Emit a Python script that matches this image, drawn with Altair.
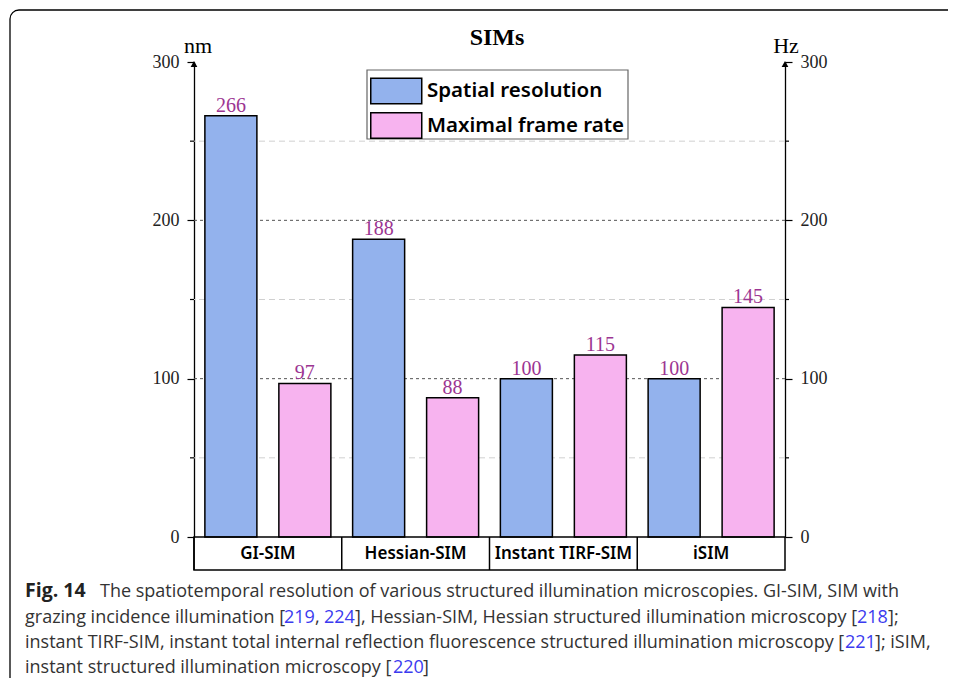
import altair as alt
import pandas as pd

# ---------------- data ----------------
categories = ["GI-SIM", "Hessian-SIM", "Instant TIRF-SIM", "iSIM"]
series = ["Spatial resolution", "Maximal frame rate"]
spatial_nm = [266, 188, 100, 100]
frame_rate_hz = [97, 88, 115, 145]
colors = ["#93b2ed", "#f7b3ef"]
y_ticks = [0, 100, 200, 300]
grid_major = [100, 200]
grid_minor = [50, 150, 250]

rows = []
for c, a, b in zip(categories, spatial_nm, frame_rate_hz):
    rows.append({"cat": c, "series": series[0], "value": a})
    rows.append({"cat": c, "series": series[1], "value": b})
df = pd.DataFrame(rows)

W, H = 591, 475
SERIF = "Liberation Serif"
SANS = "Noto Sans"
CAP = "Open Sans"
PURPLE = "#9c3592"
LINK = "#3b3bef"

yscale = alt.Scale(domain=[0, 300], nice=False, zero=True)
xscale = alt.Scale(domain=categories, paddingInner=0, paddingOuter=0)
xoff_scale = alt.Scale(domain=series, paddingInner=0.297, paddingOuter=0.147)


def yaxis(orient):
    return alt.Axis(orient=orient, values=y_ticks, title=None, grid=False,
                    domainColor="black", domainWidth=1.3, tickColor="black",
                    tickSize=7, tickWidth=1.2, labelFont=SERIF, labelFontSize=18,
                    labelColor="#222", labelPadding=8)


one = pd.DataFrame({"k": [0]})

legend_box = alt.Chart(one).mark_rect(fill="white", stroke="#666", strokeWidth=1.2).encode(
    x=alt.value(173), x2=alt.value(434), y=alt.value(8), y2=alt.value(77))

bars = alt.Chart(df).mark_bar(stroke="black", strokeWidth=1.5).encode(
    x=alt.X("cat:N", scale=xscale, sort=categories, axis=None),
    xOffset=alt.XOffset("series:N", scale=xoff_scale, sort=series),
    y=alt.Y("value:Q", scale=yscale, axis=yaxis("left")),
    fill=alt.Fill("series:N", sort=series,
                  scale=alt.Scale(domain=series, range=colors),
                  legend=alt.Legend(title=None, orient="none", legendX=171, legendY=10.5,
                                    symbolType="M-1,-1H3V1H-1Z", symbolSize=650,
                                    symbolStrokeColor="black", symbolStrokeWidth=1.5,
                                    symbolOpacity=1, labelFont=SANS, labelFontSize=20.5,
                                    labelFontWeight=600, labelColor="black", labelOffset=30,
                                    labelLimit=400, rowPadding=1.5, padding=5)),
)

value_labels = alt.Chart(df).mark_text(font=SERIF, fontSize=20, color=PURPLE,
                                       baseline="alphabetic", dy=-4).encode(
    x=alt.X("cat:N", scale=xscale, sort=categories, axis=None),
    xOffset=alt.XOffset("series:N", scale=xoff_scale, sort=series),
    y=alt.Y("value:Q", scale=yscale, axis=None),
    text="value:Q",
)

right_axis = alt.Chart(pd.DataFrame({"v": y_ticks})).mark_point(opacity=0).encode(
    y=alt.Y("v:Q", scale=yscale, axis=yaxis("right")),
)

gmaj = alt.Chart(pd.DataFrame({"v": grid_major})).mark_rule(
    color="#555", strokeDash=[3, 3], strokeWidth=1).encode(
    y=alt.Y("v:Q", scale=yscale, axis=None))
gmin = alt.Chart(pd.DataFrame({"v": grid_minor})).mark_rule(
    color="#d0d0d0", strokeDash=[6, 4], strokeWidth=1).encode(
    y=alt.Y("v:Q", scale=yscale, axis=None))
minor_l = alt.Chart(pd.DataFrame({"v": grid_minor})).mark_rule(
    color="black", strokeWidth=1.2).encode(
    y=alt.Y("v:Q", scale=yscale, axis=None), x=alt.value(-4), x2=alt.value(0))
minor_r = alt.Chart(pd.DataFrame({"v": grid_minor})).mark_rule(
    color="black", strokeWidth=1.2).encode(
    y=alt.Y("v:Q", scale=yscale, axis=None), x=alt.value(W), x2=alt.value(W + 4))

arrow_l = alt.Chart(pd.DataFrame({"v": [300]})).mark_point(
    shape="triangle-up", filled=True, color="black", size=45, opacity=1, yOffset=2).encode(
    y=alt.Y("v:Q", scale=yscale, axis=None), x=alt.value(0))
arrow_r = alt.Chart(pd.DataFrame({"v": [300]})).mark_point(
    shape="triangle-up", filled=True, color="black", size=45, opacity=1, yOffset=2).encode(
    y=alt.Y("v:Q", scale=yscale, axis=None), x=alt.value(W))

cat_box = alt.Chart(one).mark_rect(fillOpacity=0, stroke="black", strokeWidth=1.5).encode(
    x=alt.value(0), x2=alt.value(W), y=alt.value(H), y2=alt.value(H + 33))
cat_div = alt.Chart(pd.DataFrame({"cat": categories})).mark_rule(
    color="black", strokeWidth=1.5).encode(
    x=alt.X("cat:N", scale=xscale, sort=categories, bandPosition=0, axis=None),
    y=alt.value(H), y2=alt.value(H + 33))
cat_text = alt.Chart(pd.DataFrame({"cat": categories})).mark_text(
    font=SANS, fontSize=17, fontWeight=600, color="black", baseline="middle").encode(
    x=alt.X("cat:N", scale=xscale, sort=categories, axis=None),
    y=alt.value(H + 17), text="cat:N")

frame = alt.Chart(one).mark_rect(fillOpacity=0, stroke="black", strokeWidth=1.3,
                                 cornerRadiusTopLeft=9).encode(
    x=alt.value(-184), y=alt.value(-52), x2=alt.value(W + 400), y2=alt.value(H + 300))


def txt(s, x, y, **kw):
    base = dict(align="left", baseline="alphabetic")
    base.update(kw)
    return alt.Chart(pd.DataFrame({"t": [s]})).mark_text(**base).encode(
        x=alt.value(x), y=alt.value(y), text="t:N")


title = txt("SIMs", 303, -17, align="center", font=SERIF, fontSize=24,
            fontWeight="bold", color="black")
nm = txt("nm", 4, -9, align="center", font=SERIF, fontSize=22, color="black")
hz = txt("Hz", 592, -9, align="center", font=SERIF, fontSize=22, color="black")

cap_kw = dict(font=CAP, fontSize=18, color="#333")
link_kw = dict(font=CAP, fontSize=18, color=LINK)
L1, L2, L3, L4 = 535, 561, 586, 611
X0 = -169
caption = [
    txt("Fig. 14", X0, L1, font=CAP, fontSize=19.5, fontWeight="bold", color="#222"),
    txt("The spatiotemporal resolution of various structured illumination microscopies. GI-SIM, SIM with",
        100 - 194, L1, **cap_kw),
    txt("grazing incidence illumination [", X0, L2, **cap_kw),
    txt("219", 284 - 194, L2, **link_kw),
    txt(",", 315 - 194, L2, **cap_kw),
    txt("224", 324 - 194, L2, **link_kw),
    txt("], Hessian-SIM, Hessian structured illumination microscopy [", 355 - 194, L2, **cap_kw),
    txt("218", 857 - 194, L2, **link_kw),
    txt("];", 888 - 194, L2, **cap_kw),
    txt("instant TIRF-SIM, instant total internal reflection fluorescence structured illumination microscopy [",
        X0, L3, **cap_kw),
    txt("221", 845 - 194, L3, **link_kw),
    txt("]; iSIM,", 875 - 194, L3, **cap_kw),
    txt("instant structured illumination microscopy [", X0, L4, **cap_kw),
    txt("220", 393 - 194, L4, **link_kw),
    txt("]", 423 - 194, L4, **cap_kw),
]

chart = alt.layer(
    frame, gmin, gmaj, legend_box, bars, value_labels, right_axis, minor_l, minor_r,
    arrow_l, arrow_r, cat_box, cat_div, cat_text, title, nm, hz, *caption,
).properties(
    width=W, height=H,
    autosize=alt.AutoSizeParams(type="none"),
    padding={"left": 186, "top": 54, "right": 163, "bottom": 141},
    background="white",
).resolve_axis(y="independent").configure_view(stroke=None)

chart.save("out.html", embed_options={"renderer": "svg", "actions": False})
